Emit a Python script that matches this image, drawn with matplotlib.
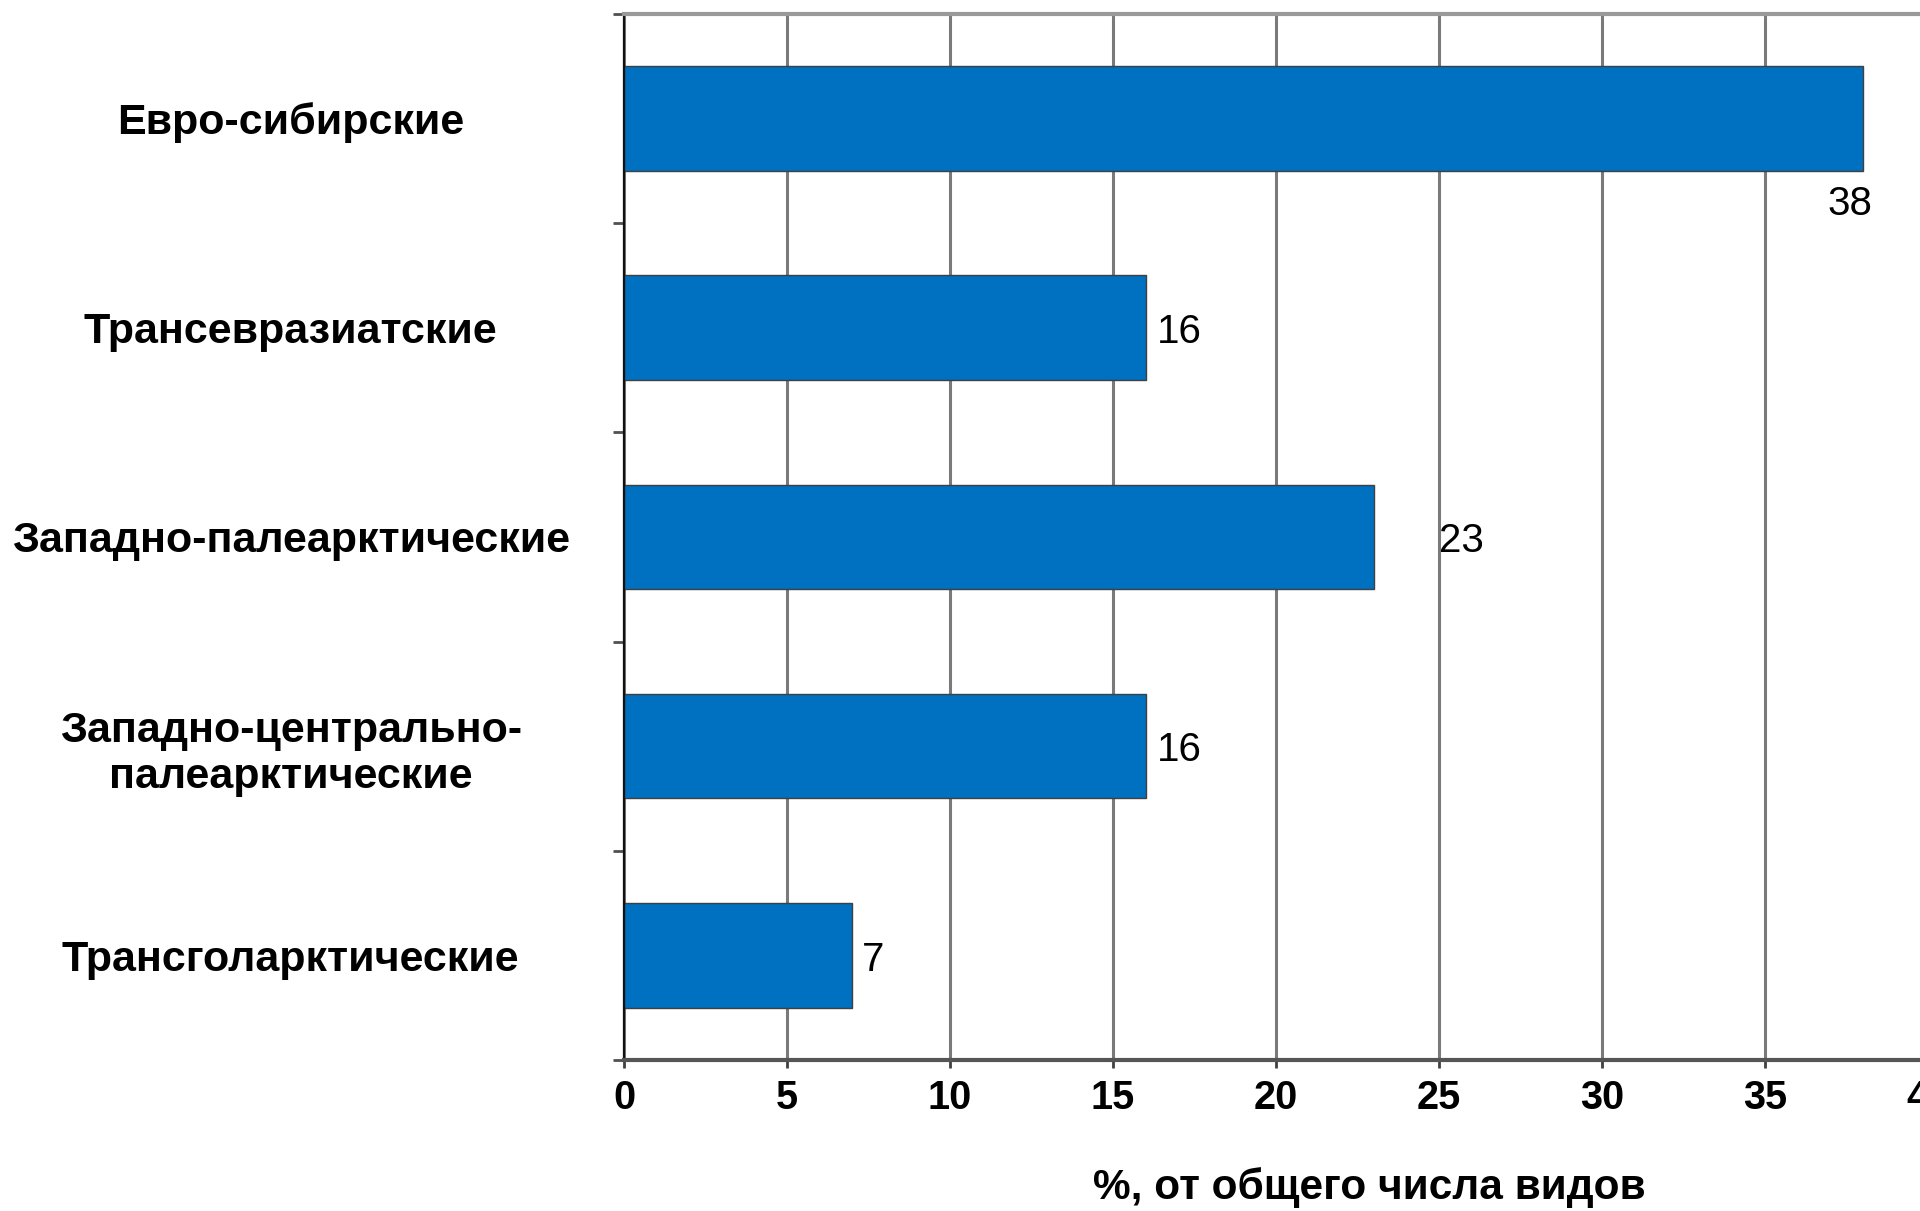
import matplotlib
matplotlib.use('Agg')
import matplotlib.pyplot as plt
from matplotlib.ticker import MultipleLocator, FixedLocator

plt.rcParams['font.family'] = ['Liberation Sans', 'DejaVu Sans']

# data
categories = ['Евро-сибирские', 'Трансевразиатские', 'Западно-палеарктические',
              'Западно-центрально-\nпалеарктические', 'Трансголарктические']
values = [38, 16, 23, 16, 7]
xlabel = '%, от общего числа видов'

# label placement (dx, dy) relative to bar end
label_offsets = [(-0.4, 0.41), (0.35, 0.02), (2.0, 0.02), (0.35, 0.02), (0.3, 0.02)]

fig = plt.figure(figsize=(19.2, 12.11), dpi=100)
ax = fig.add_axes([0.325, 0.1247, 0.6792, 0.8638])

ypos = list(range(len(categories)))
ax.barh(ypos, values, height=0.5, color='#0070C0', edgecolor='#404040', linewidth=1, zorder=2)

ax.set_xlim(0, 40)
ax.set_ylim(len(categories) - 0.5, -0.5)

# x axis
ax.xaxis.set_major_locator(MultipleLocator(5))
ax.tick_params(axis='x', direction='out', length=6, width=2, color='#404040',
               labelsize=28.5, pad=8)
for t in ax.get_xticklabels():
    t.set_fontweight('bold')
ax.grid(axis='x', color='#7a7a7a', linewidth=2.2)
ax.set_axisbelow(True)

# y axis: labels centred, ticks between categories
ax.set_yticks(ypos)
ax.set_yticklabels(categories, fontsize=31, fontweight='bold', ha='center', ma='center')
ax.tick_params(axis='y', which='major', length=0, pad=240)
ax.yaxis.set_minor_locator(FixedLocator([i - 0.5 for i in range(len(categories) + 1)]))
ax.tick_params(axis='y', which='minor', direction='out', length=8, width=2, color='#505050')

ax.spines['right'].set_visible(False)
ax.spines['top'].set_color('#999999')
ax.spines['top'].set_linewidth(3)
ax.spines['bottom'].set_color('#555555')
ax.spines['bottom'].set_linewidth(3)
ax.spines['left'].set_color('#111111')
ax.spines['left'].set_linewidth(1.6)

# value labels
for i, v in enumerate(values):
    dx, dy = label_offsets[i]
    ha = 'center' if dy > 0.1 else 'left'
    ax.text(v + dx, i + dy, str(v), fontsize=29, ha=ha, va='center', color='#000000')

fig.text(0.713, 0.0099, xlabel, fontsize=30.5, fontweight='bold', ha='center', va='baseline')

fig.savefig('out.png', dpi=100)
